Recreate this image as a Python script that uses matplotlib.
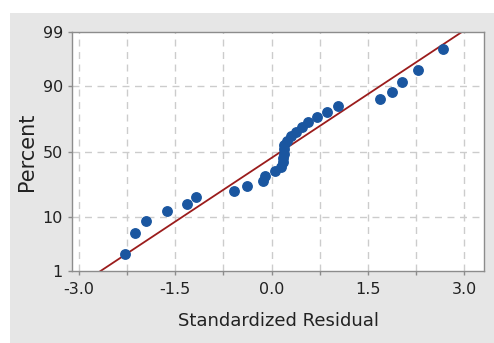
import matplotlib
matplotlib.use('Agg')
import matplotlib.pyplot as plt
import numpy as np
from statistics import NormalDist
from matplotlib.patches import Rectangle

# standardized residuals, sorted, and their plotted percent
residuals = [-2.28, -2.13, -1.96, -1.63, -1.32, -1.18, -0.58, -0.38, -0.13, -0.11,
             0.05, 0.15, 0.18, 0.18, 0.19, 0.19, 0.20, 0.24, 0.30, 0.38,
             0.48, 0.57, 0.70, 0.86, 1.04, 1.69, 1.88, 2.03, 2.28, 2.67]
percents = [2.3, 5.6, 8.9, 12.2, 15.5, 18.8, 22.0, 25.3, 28.6, 31.9,
            35.2, 38.5, 41.8, 45.1, 48.4, 51.6, 54.9, 58.2, 61.5, 64.8,
            68.1, 71.4, 74.7, 78.0, 81.3, 84.5, 87.8, 91.1, 94.4, 97.7]
fit_mu = 0.15
fit_sigma = 1.21

y_ticks = [1, 10, 50, 90, 99]
x_ticks = [-3.0, -1.5, 0.0, 1.5, 3.0]

nd = NormalDist()
_ppf = np.vectorize(nd.inv_cdf, otypes=[float])
_cdf = np.vectorize(nd.cdf, otypes=[float])


def fwd(p):
    p = np.clip(np.asarray(p, dtype=float), 0.01, 99.99) / 100.0
    return _ppf(p)


def inv(z):
    return _cdf(np.asarray(z, dtype=float)) * 100.0


fig = plt.figure(figsize=(4.94, 3.43), dpi=100)
fig.patch.set_facecolor('white')
fig.patches.append(Rectangle((10 / 494, 0), 1, 1 - 13 / 343, transform=fig.transFigure,
                             facecolor='#e6e6e6', edgecolor='none', zorder=-10))

ax = fig.add_axes([72 / 494, 1 - 271 / 343, (484 - 72) / 494, (271 - 32) / 343])
ax.set_yscale('function', functions=(fwd, inv))
ax.set_facecolor('white')

# fitted normal line
zz = np.linspace(-3, 3, 50)
line_x = fit_mu + fit_sigma * zz
line_p = inv(zz)
ax.plot(line_x, line_p, color='#9b1c1c', lw=1.3, zorder=2)

ax.plot(residuals, percents, 'o', color='#1a56a0', markersize=6.8, zorder=3)

ax.set_xlim(-3.11, 3.31)
ax.set_ylim(1, 99)
ax.set_xticks(x_ticks)
ax.set_xticklabels(['%.1f' % t for t in x_ticks])
ax.set_xticks(np.arange(-3.0, 3.01, 0.75), minor=True)
ax.set_yticks(y_ticks)
ax.set_yticklabels([str(t) for t in y_ticks])
ax.yaxis.set_minor_locator(matplotlib.ticker.NullLocator())

for v in np.arange(-3.0, 3.01, 0.75):
    ax.axvline(v, color='#cccccc', lw=1, ls=(0, (5, 4)), zorder=1)
for p in [10, 50, 90]:
    ax.axhline(p, color='#cccccc', lw=1, ls=(0, (5, 4)), zorder=1)

for s in ax.spines.values():
    s.set_color('#8c8c8c')
    s.set_linewidth(1)
ax.tick_params(axis='both', which='both', colors='#8c8c8c', labelcolor='#222222',
               labelsize=11.5, length=3, width=1)
ax.tick_params(axis='x', which='major', pad=5)

ax.set_xlabel('Standardized Residual', fontsize=13, color='#222222', labelpad=11)
ax.set_ylabel('Percent', fontsize=15, color='#222222', labelpad=4)

fig.savefig('out.png', dpi=100, facecolor=fig.get_facecolor())
